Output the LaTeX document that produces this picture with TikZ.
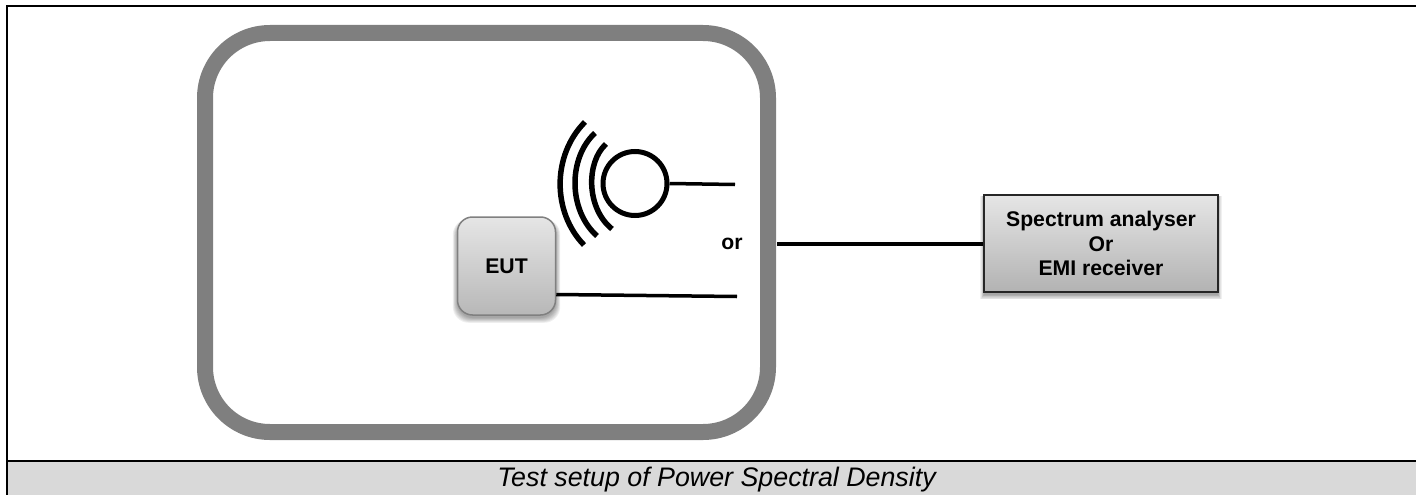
\documentclass[tikz,border=0pt]{standalone}
\usepackage{fontspec}
\setmainfont{Liberation Sans}
\usetikzlibrary{calc}
\definecolor{framegray}{HTML}{7F7F7F}
\definecolor{capgray}{HTML}{D9D9D9}
\tikzset{
  x=1pt,y=-1pt,
  wire/.style={draw=black,line width=3.5pt},
  wave/.style={draw=black,line width=5.5pt},
  lab/.style={font=\fontsize{21.2}{24.5}\selectfont\bfseries,align=center,text=black},
  captext/.style={font=\fontsize{26.8}{30}\selectfont\itshape,text=black},
}
\begin{document}
\begin{tikzpicture}[line join=miter]
\useasboundingbox (0,0) rectangle (1416,495);
\fill[capgray] (7,461) rectangle (1416,495);
\draw[black,line width=2pt] (7,495) -- (7,6) -- (1416,6);
\draw[black,line width=2pt] (7,461) -- (1416,461);
\node[captext,inner sep=0pt,anchor=base] (caption) at (716.5,486) {Test setup of Power Spectral Density};
\node[draw=framegray,line width=16pt,rounded corners=65pt,minimum width=563pt,minimum height=399pt,inner sep=0pt] (room) at (486.5,232.5) {};
\node[lab,inner sep=0pt] (rep) at (732,244) {or};
\foreach \g in {0,1,...,6}{
  \fill[black,opacity=.06,rounded corners=16pt] ($(457,220)+(-\g*.7,-\g*.2)$) rectangle ($(556,318)+(\g*.7,\g*.8)$);
  \fill[black,opacity=.06] ($(984,197)+(-\g*.6,-\g*.2)$) rectangle ($(1218,295)+(\g*.6,\g*.7)$);
}
\node[draw=black!50,line width=1.5pt,rounded corners=15pt,minimum width=98pt,minimum height=98pt,top color=black!10,bottom color=black!28,lab,inner sep=0pt] (eut) at (506.5,266) {EUT};
\node[draw=black!85,line width=1.5pt,minimum width=234pt,minimum height=97pt,top color=black!10,bottom color=black!30,lab,inner sep=0pt] (sa) at (1101,243.5) {Spectrum analyser\\Or\\EMI receiver};
\node[circle,draw=black,line width=5pt,minimum size=64pt,inner sep=0pt] (ant) at (635,183.5) {};
\coordinate (w1) at (735,184.5);
\coordinate (w2) at (737,296.5);
\coordinate (w3) at (777,244);
\draw[wire] (ant.east) -- (w1);
\draw[wire] (eut.east |- 0,294.5) -- (w2);
\draw[wire] (w3) -- (sa.west |- w3);
\draw[wave] (606,144) .. controls (586,162) and (586,208) .. (612,229);
\draw[wave] (595,133) .. controls (568,158) and (568,210) .. (597,236);
\draw[wave] (585,122) .. controls (552,155) and (552,212) .. (584,245);
\end{tikzpicture}
\end{document}
